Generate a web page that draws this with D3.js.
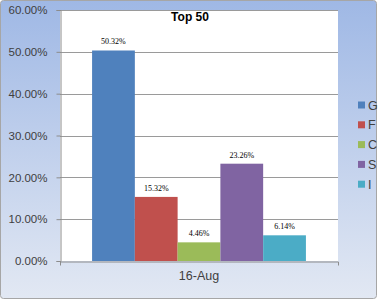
<!DOCTYPE html>
<html>
<head>
<meta charset="utf-8">
<script src="https://cdn.jsdelivr.net/npm/d3@7"></script>
<style>
  body { margin: 0; background: #fff; }
  svg { display: block; }
</style>
</head>
<body>
<div id="chart"></div>
<script>
var categories = ["16-Aug"];
var seriesNames = ["G", "F", "C", "S", "I"];
var seriesValues = [0.5032, 0.1532, 0.0446, 0.2326, 0.0614];
var seriesColors = ["#4f81bd", "#c0504d", "#9bbb59", "#8064a2", "#4bacc6"];
var yTicks = [0, 0.1, 0.2, 0.3, 0.4, 0.5, 0.6];
var title = "Top 50";

var W = 378, H = 300;
var plot = { left: 60, right: 338, top: 10, bottom: 261 };

var svg = d3.select("#chart").append("svg")
  .attr("width", W)
  .attr("height", H);

// background gradient
var defs = svg.append("defs");
var grad = defs.append("linearGradient")
  .attr("id", "bg")
  .attr("x1", 0).attr("y1", 0).attr("x2", 0).attr("y2", 1);
grad.append("stop").attr("offset", "0%").attr("stop-color", "#9fb8e5");
grad.append("stop").attr("offset", "100%").attr("stop-color", "#e2e8f3");

svg.append("rect")
  .attr("x", 0.5).attr("y", 0.5)
  .attr("width", W - 2).attr("height", H - 2)
  .attr("rx", 3)
  .attr("fill", "url(#bg)")
  .attr("stroke", "#a6a6a6");

// plot area
svg.append("rect")
  .attr("x", plot.left).attr("y", plot.top)
  .attr("width", plot.right - plot.left)
  .attr("height", plot.bottom - plot.top)
  .attr("fill", "#fff");

var y = d3.scaleLinear().domain([0, 0.6]).range([plot.bottom, plot.top]);
var x0 = d3.scaleBand().domain(categories)
  .range([plot.left, plot.right])
  .paddingInner(0).paddingOuter(0.15);
var x1 = d3.scaleBand().domain(seriesNames)
  .range([0, x0.bandwidth()]);

// gridlines
svg.append("g")
  .selectAll("line")
  .data(yTicks.slice(1))
  .enter()
  .append("line")
  .attr("x1", plot.left).attr("x2", plot.right)
  .attr("y1", function(d){ return Math.round(y(d)) + 0.5; })
  .attr("y2", function(d){ return Math.round(y(d)) + 0.5; })
  .attr("stroke", "#9a9a9a")
  .attr("stroke-width", 1);

// y axis
var yAxis = svg.append("g")
  .attr("transform", "translate(" + (plot.left + 0.5) + ",0)")
  .call(d3.axisLeft(y).tickValues(yTicks).tickFormat(d3.format(".2%")).tickSize(4).tickPadding(9));
yAxis.select(".domain").attr("stroke", "#8c8c8c");
yAxis.selectAll(".tick line").attr("stroke", "#8c8c8c");
yAxis.selectAll("text")
  .attr("font-family", "Liberation Sans, Arial, sans-serif")
  .attr("font-size", "11.5px")
  .attr("fill", "#404040");

// x axis
var xAxis = svg.append("g")
  .attr("transform", "translate(0," + (plot.bottom + 0.5) + ")")
  .call(d3.axisBottom(x0).tickSize(0).tickPadding(10).tickSizeOuter(4));
xAxis.select(".domain").attr("stroke", "#8c8c8c");
xAxis.selectAll("text")
  .attr("font-family", "Liberation Sans, Arial, sans-serif")
  .attr("font-size", "12.5px")
  .attr("fill", "#404040");

// bars
var rows = seriesNames.map(function(n, i){
  return { name: n, value: seriesValues[i], color: seriesColors[i] };
});
var g = svg.append("g")
  .attr("transform", "translate(" + x0(categories[0]) + ",0)");
g.selectAll("rect")
  .data(rows)
  .enter()
  .append("rect")
  .attr("x", function(d){ return x1(d.name); })
  .attr("y", function(d){ return y(d.value); })
  .attr("width", x1.bandwidth())
  .attr("height", function(d){ return y(0) - y(d.value); })
  .attr("fill", function(d){ return d.color; });
// data labels
g.selectAll("text")
  .data(rows)
  .enter()
  .append("text")
  .attr("x", function(d){ return x1(d.name) + x1.bandwidth() / 2; })
  .attr("y", function(d){ return y(d.value) - 6; })
  .attr("text-anchor", "middle")
  .attr("font-family", "Liberation Serif, DejaVu Serif, serif")
  .attr("font-size", "8px")
  .attr("fill", "#000")
  .text(function(d){ return d3.format(".2%")(d.value); });

// title
svg.append("text")
  .attr("x", 190)
  .attr("y", 21)
  .attr("text-anchor", "middle")
  .attr("font-family", "Liberation Sans, Arial, sans-serif")
  .attr("font-weight", "bold")
  .attr("font-size", "12px")
  .attr("fill", "#000")
  .text(title);

// legend
var lg = svg.append("g")
  .selectAll("g")
  .data(rows)
  .enter()
  .append("g")
  .attr("transform", function(d, i){ return "translate(358," + (105 + i * 19.8) + ")"; });
lg.append("rect")
  .attr("x", 0).attr("y", -3.5)
  .attr("width", 7).attr("height", 7)
  .attr("fill", function(d){ return d.color; });
lg.append("text")
  .attr("x", 10)
  .attr("y", 4.5)
  .attr("font-family", "Liberation Sans, Arial, sans-serif")
  .attr("font-size", "12.5px")
  .attr("fill", "#404040")
  .text(function(d){ return d.name; });
</script>
</body>
</html>
